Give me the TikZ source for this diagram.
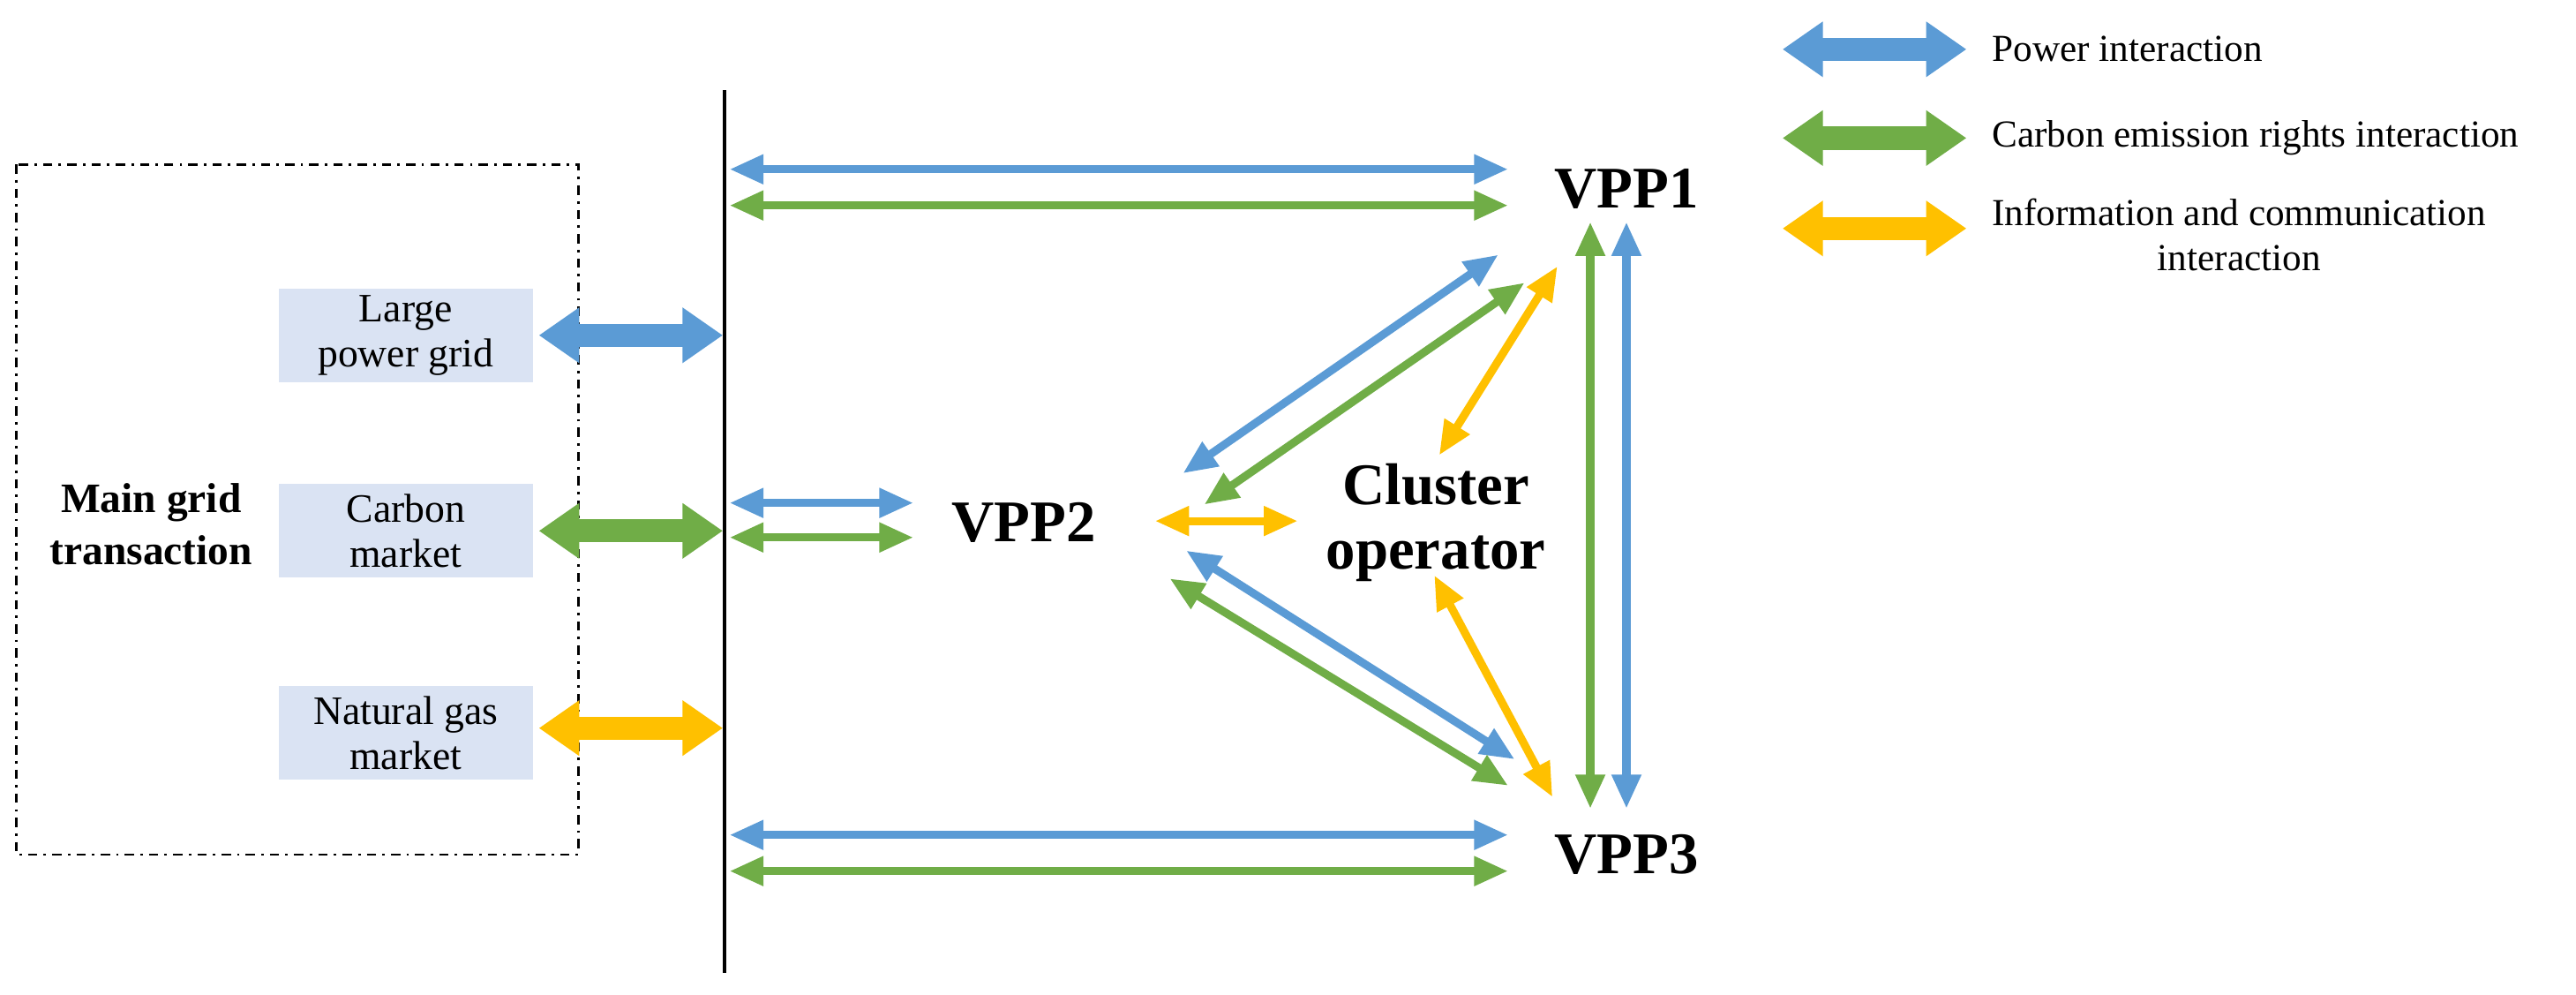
\documentclass[tikz,border=0pt]{standalone}
\usepackage{fontspec}
\setmainfont{Liberation Serif}
\usetikzlibrary{arrows.meta}
\definecolor{pb}{HTML}{5B9BD5}
\definecolor{pg}{HTML}{70AD47}
\definecolor{py}{HTML}{FFC000}
\definecolor{lb}{HTML}{DAE3F3}
\begin{document}
\begin{tikzpicture}[x=0.01862cm,y=-0.01862cm,
 thin/.style={line width=2.6pt,{Triangle[length=11pt,width=9pt]}-{Triangle[length=11pt,width=9pt]}},
 thick/.style={line width=7.5pt,{Triangle[length=13pt,width=17pt]}-{Triangle[length=13pt,width=17pt]}},
 lbox/.style={fill=lb,minimum width=155*0.01862cm,minimum height=57*0.01862cm,align=center,font=\fontsize{13}{14.5}\selectfont,inner sep=0pt},
 vpp/.style={font=\fontsize{19}{21}\selectfont\bfseries,align=center},
 leg/.style={font=\fontsize{12.3}{14.5}\selectfont,align=center}]
\useasboundingbox (0,0) rectangle (1568,605);
\draw[line width=0.8pt,dash dot] (10,100) rectangle (352,520);
\node[font=\fontsize{13.5}{17}\selectfont\bfseries,align=center] (mg) at (92,319) {Main grid\\transaction};
\node[lbox] (lpg) at (247,204) {Large\\power grid};
\node[lbox] (cm) at (247,323) {Carbon\\market};
\node[lbox] (ngm) at (247,446) {Natural gas\\market};
\draw[thick,pb] (328,204) -- (440,204);
\draw[thick,pg] (328,323) -- (440,323);
\draw[thick,py] (328,443) -- (440,443);
\draw[line width=1.2pt] (441,55) -- (441,592);
\node[vpp] (v1) at (990,115) {VPP1};
\node[vpp] (v2) at (623,318) {VPP2};
\node[vpp] (v3) at (990,520) {VPP3};
\node[vpp] (co) at (874,318) {Cluster\\operator};
\draw[thin,pb] (444,103) -- (918,103);
\draw[thin,pg] (444,125) -- (918,125);
\draw[thin,pb] (444,306) -- (556,306);
\draw[thin,pg] (444,327) -- (556,327);
\draw[thin,pb] (444,508) -- (918,508);
\draw[thin,pg] (444,530) -- (918,530);
\draw[thin,py] (703,317) -- (790,317);
\draw[thin,pb] (912,155) -- (720,288);
\draw[thin,pg] (928,172) -- (733,307);
\draw[thin,py] (948,162) -- (876,277);
\draw[thin,pb] (722,335) -- (922,462);
\draw[thin,pg] (712,352) -- (918,478);
\draw[thin,py] (873,350) -- (945,485);
\draw[thin,pg] (968,135) -- (968,492);
\draw[thin,pb] (990,135) -- (990,492);
\draw[thick,pb] (1085,30) -- (1197,30);
\draw[thick,pg] (1085,84) -- (1197,84);
\draw[thick,py] (1085,139) -- (1197,139);
\node[leg,anchor=west] (l1) at (1206,30) {Power interaction};
\node[leg,anchor=west] (l2) at (1206,84) {Carbon emission rights interaction};
\node[leg,anchor=west] (l3) at (1206,143) {Information and communication\\interaction};
\end{tikzpicture}
\end{document}
